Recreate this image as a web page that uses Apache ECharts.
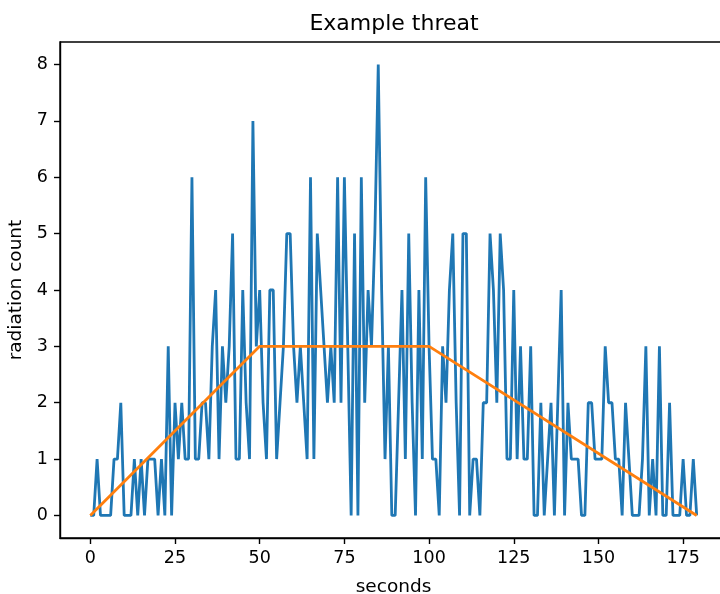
<!DOCTYPE html>
<html>
<head>
<meta charset="utf-8">
<script src="https://cdn.jsdelivr.net/npm/echarts@6/dist/echarts.min.js"></script>
<style>
  html, body { margin: 0; padding: 0; background: #fff; }
  #chart { width: 720px; height: 594px; }
</style>
</head>
<body>
<div id="chart"></div>
<script>
// counts per second (seconds 0..179)
let radiationCounts = [
  0, 0, 1, 0, 0, 0, 0, 1, 1, 2,
  0, 0, 0, 1, 0, 1, 0, 1, 1, 1,
  0, 1, 0, 3, 0, 2, 1, 2, 1, 1,
  6, 1, 1, 2, 2, 1, 3, 4, 1, 3,
  2, 3, 5, 1, 1, 4, 2, 1, 7, 3,
  4, 2, 1, 4, 4, 1, 2, 3, 5, 5,
  3, 2, 3, 2, 1, 6, 1, 5, 4, 3,
  2, 3, 2, 6, 2, 6, 3, 0, 5, 0,
  6, 2, 4, 3, 5, 8, 4, 1, 3, 0,
  0, 2, 4, 1, 5, 2, 0, 4, 1, 6,
  3, 1, 1, 0, 3, 2, 4, 5, 2, 0,
  5, 5, 0, 1, 1, 0, 2, 2, 5, 4,
  2, 5, 4, 1, 1, 4, 1, 3, 1, 1,
  3, 0, 0, 2, 0, 1, 2, 0, 2, 4,
  0, 2, 1, 1, 1, 0, 0, 2, 2, 1,
  1, 1, 3, 2, 2, 1, 1, 0, 2, 1,
  0, 0, 0, 1, 3, 0, 1, 0, 3, 0,
  0, 2, 0, 0, 0, 1, 0, 0, 1, 0
];

// threat profile corners
let profileSeconds = [0, 50, 100, 179];
let profileCounts = [0, 3, 3, 0];

let xTicks = [0, 25, 50, 75, 100, 125, 150, 175];
let yTicks = [0, 1, 2, 3, 4, 5, 6, 7, 8];

let font = "DejaVu Sans";

let chart = echarts.init(document.getElementById("chart"), null, { renderer: "canvas" });

let countData = radiationCounts.map(function (c, i) {
  return [i, c];
});
let profileData = profileSeconds.map(function (s, i) {
  return [s, profileCounts[i]];
});

let options = {
  animation: false,
  title: {
    text: "Example threat",
    left: 389,
    top: 8,
    textAlign: "center",
    textStyle: { fontFamily: font, fontSize: 22, fontWeight: "normal", color: "#000" },
  },
  grid: {
    left: 60,
    top: 42,
    width: 667,
    height: 496,
    outerBoundsMode: "none",
    containLabel: false,
    show: true,
    borderColor: "#000",
    borderWidth: 1.4,
    backgroundColor: "transparent",
  },
  xAxis: {
    type: "value",
    min: -8.95,
    max: 187.95,
    name: "seconds",
    nameLocation: "middle",
    nameGap: 40,
    nameTextStyle: { fontFamily: font, fontSize: 18.5, color: "#000" },
    splitLine: { show: false },
    axisLine: { show: true, onZero: false, lineStyle: { color: "#000", width: 1.4 } },
    axisTick: {
      show: true,
      length: 6,
      lineStyle: { color: "#000", width: 1.4 },
      customValues: xTicks,
    },
    axisLabel: {
      fontFamily: font,
      fontSize: 17.5,
      color: "#000",
      margin: 11,
      customValues: xTicks,
    },
  },
  yAxis: {
    type: "value",
    min: -0.4,
    max: 8.4,
    name: "radiation count",
    nameLocation: "middle",
    nameGap: 31,
    nameRotate: 90,
    nameTextStyle: { fontFamily: font, fontSize: 18.5, color: "#000" },
    splitLine: { show: false },
    axisLine: { show: true, onZero: false, lineStyle: { color: "#000", width: 1.4 } },
    axisTick: {
      show: true,
      length: 6,
      lineStyle: { color: "#000", width: 1.4 },
      customValues: yTicks,
    },
    axisLabel: {
      fontFamily: font,
      fontSize: 17.5,
      color: "#000",
      margin: 12,
      customValues: yTicks,
    },
  },
  series: [
    {
      type: "line",
      data: countData,
      symbol: "none",
      lineStyle: { color: "#1f77b4", width: 2.8 },
    },
    {
      type: "line",
      data: profileData,
      symbol: "none",
      lineStyle: { color: "#ff7f0e", width: 2.8 },
    },
  ],
};

chart.setOption(options);
</script>
</body>
</html>
